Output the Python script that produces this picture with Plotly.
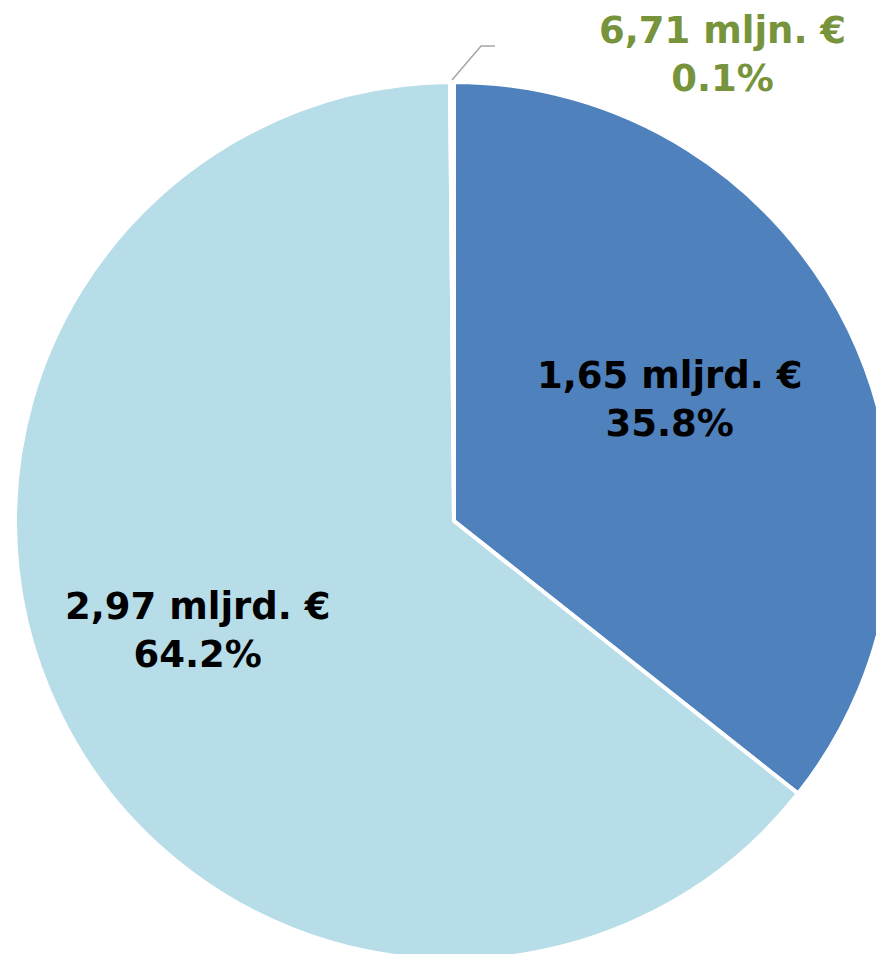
import plotly.graph_objects as go

# Data
categories = ["Segment A", "Segment B", "Segment C"]
values_eur = [1.65e9, 2.97e9, 6.71e6]
value_labels = ["1,65 mljrd. €", "2,97 mljrd. €", "6,71 mljn. €"]
pct_labels = ["35.8%", "64.2%", "0.1%"]
colors = ["#4F81BD", "#B7DDE8", "#9BBB59"]
label_colors = ["black", "black", "#77933C"]

W, H = 900, 970            # figure larger than the window; right/bottom are clipped
CX, CY, R = 454, 521, 439  # pie centre and radius in page pixels
label_pos = [(670, 399), (198, 630), (722, 54)]  # label centres in page pixels

def px(x):
    return x / W

def py(y):
    return (H - y) / H

texts = [f"{v}<br>{p}" for v, p in zip(value_labels, pct_labels)]

fig = go.Figure(
    go.Pie(
        labels=categories,
        values=values_eur,
        textinfo="none",
        sort=False,
        direction="clockwise",
        rotation=0,
        marker=dict(colors=colors, line=dict(color="white", width=4)),
        hoverinfo="skip",
        showlegend=False,
        domain=dict(x=[px(CX - R), px(CX + R)], y=[py(CY + R), py(CY - R)]),
    )
)

for t, c, (lx, ly) in zip(texts, label_colors, label_pos):
    fig.add_annotation(
        x=px(lx), y=py(ly), xref="paper", yref="paper",
        text=t, showarrow=False, xanchor="center", yanchor="middle",
        font=dict(family="DejaVu Sans", size=37, color=c, weight="bold"),
    )

# leader line for the tiny slice
fig.add_shape(
    type="path", xref="paper", yref="paper",
    path=f"M {px(452)} {py(80)} L {px(481)} {py(46)} L {px(495)} {py(46)}",
    line=dict(color="#A6A6A6", width=1.5),
)

fig.update_layout(
    width=W, height=H,
    margin=dict(l=0, r=0, t=0, b=0),
    paper_bgcolor="white", plot_bgcolor="white",
)

fig.write_html(
    "out.html",
    config={"displayModeBar": False},
    post_script="document.body.style.margin='0';document.body.style.overflow='hidden';",
)
